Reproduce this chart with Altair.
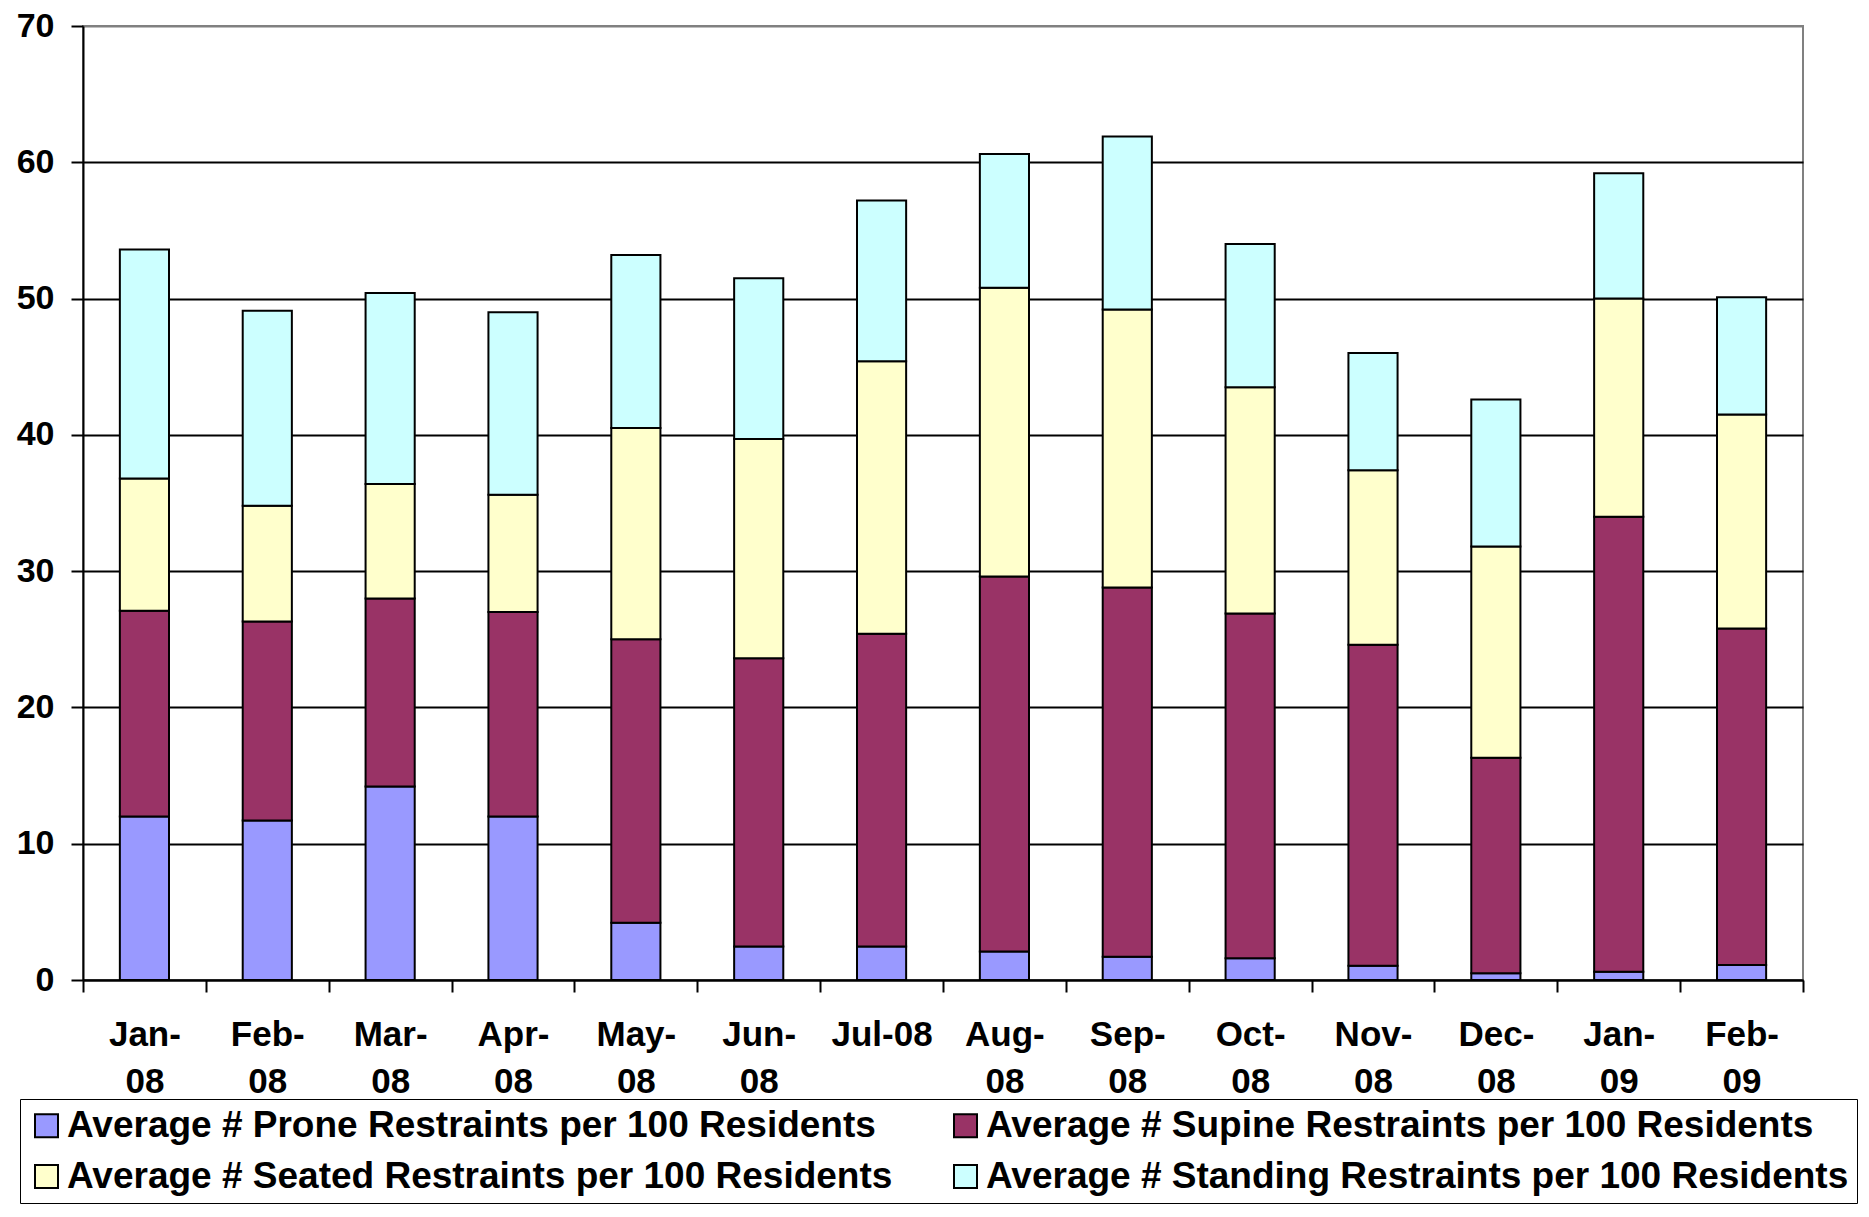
import altair as alt
import pandas as pd

months = ["Jan-08", "Feb-08", "Mar-08", "Apr-08", "May-08", "Jun-08", "Jul-08",
          "Aug-08", "Sep-08", "Oct-08", "Nov-08", "Dec-08", "Jan-09", "Feb-09"]

prone = [12.0, 11.7, 14.2, 12.0, 4.2, 2.45, 2.45, 2.1, 1.7, 1.6, 1.05, 0.5, 0.6, 1.1]
supine = [15.1, 14.6, 13.8, 15.0, 20.8, 21.15, 22.95, 27.5, 27.1, 25.3, 23.55, 15.8, 33.4, 24.7]
seated = [9.7, 8.5, 8.4, 8.6, 15.5, 16.1, 20.0, 21.2, 20.4, 16.6, 12.8, 15.5, 16.0, 15.7]
standing = [16.8, 14.3, 14.0, 13.4, 12.7, 11.8, 11.8, 9.8, 12.7, 10.5, 8.6, 10.8, 9.2, 8.6]

series_names = [
    "Average # Prone Restraints per 100 Residents",
    "Average # Supine Restraints per 100 Residents",
    "Average # Seated Restraints per 100 Residents",
    "Average # Standing Restraints per 100 Residents",
]
colors = ["#9999FF", "#993366", "#FFFFCC", "#CCFFFF"]
y_ticks = [0, 10, 20, 30, 40, 50, 60, 70]

rows = []
for si, (name, vals) in enumerate(zip(series_names, [prone, supine, seated, standing])):
    for m, v in zip(months, vals):
        rows.append({"month": m, "series": name, "value": v, "stackidx": si})
df = pd.DataFrame(rows)

FONT = "Liberation Sans"

label_expr = (
    "isString(datum.value) ? (datum.value === 'Jul-08' ? datum.value : "
    "[slice(datum.value, 0, 4), slice(datum.value, 4)]) : ''"
)

chart = alt.Chart(df).mark_bar(
    stroke="black", strokeWidth=2, width=alt.RelativeBandSize(0.4)
).encode(
    x=alt.X(
        "month:N", sort=months, title=None,
        scale=alt.Scale(paddingInner=0, paddingOuter=0),
        axis=alt.Axis(
            labelAngle=0, tickBand="extent", tickSize=12, tickWidth=2, tickColor="black",
            domainColor="black", domainWidth=2, labelFont=FONT, labelFontSize=35,
            labelFontWeight="bold", labelColor="black", labelPadding=25, labelLineHeight=47,
            labelExpr=label_expr, grid=False,
        ),
    ),
    y=alt.Y(
        "value:Q", stack="zero", title=None,
        scale=alt.Scale(domain=[0, 70], nice=False),
        axis=alt.Axis(
            values=y_ticks, grid=True,
            gridColor={"condition": {"test": "datum.value === 70", "value": "#808080"}, "value": "black"},
            gridWidth=2, tickSize=12, tickWidth=2, tickColor="black",
            domainColor="black", domainWidth=2, labelFont=FONT, labelFontSize=34,
            labelFontWeight="bold", labelColor="black", labelPadding=17,
        ),
    ),
    color=alt.Color(
        "series:N", sort=series_names, title=None,
        scale=alt.Scale(domain=series_names, range=colors),
        legend=alt.Legend(
            orient="none", legendX=-63, legendY=1073, columns=2, columnPadding=54,
            direction="horizontal",
            rowPadding=13, padding=8, labelFont=FONT, labelFontSize=37,
            labelFontWeight="bold", labelColor="black", labelLimit=1500,
            symbolType="square", symbolSize=529, symbolStrokeColor="black",
            symbolStrokeWidth=2, labelOffset=2, strokeColor="black",
        ),
    ),
    order=alt.Order("stackidx:Q", sort="ascending"),
).properties(
    width=1720, height=954,
    autosize=alt.AutoSizeParams(type="none"),
    padding={"left": 75, "top": 18, "right": 57, "bottom": 224},
).configure_view(
    stroke="#808080", strokeWidth=2
)

chart.save("out.html", embed_options={"renderer": "svg", "actions": False})
